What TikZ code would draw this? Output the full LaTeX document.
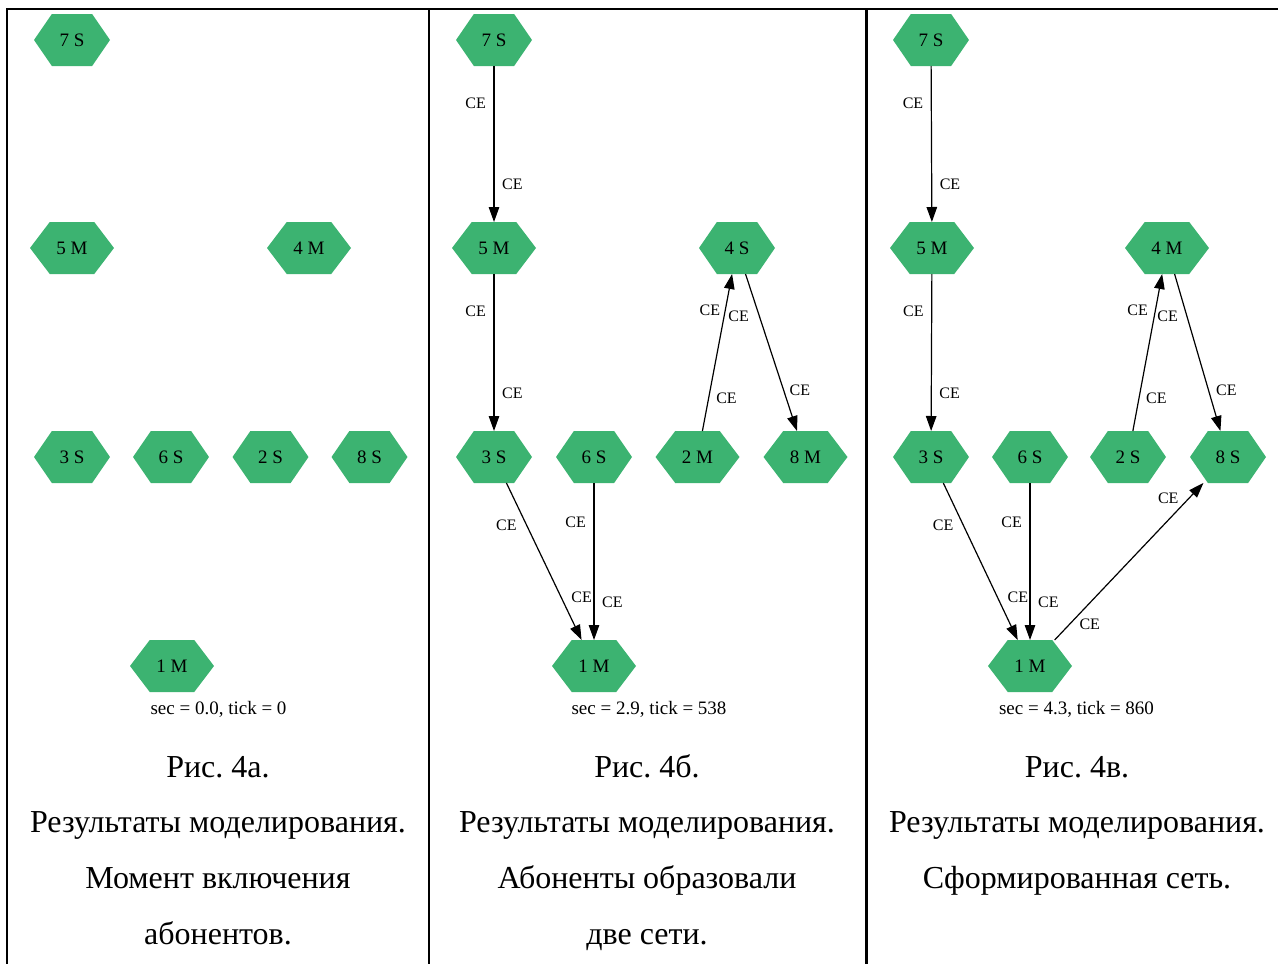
\documentclass[tikz,border=0pt]{standalone}
\usepackage{fontspec}
\setmainfont{Liberation Serif}
\usetikzlibrary{arrows.meta,calc}
\frenchspacing
\definecolor{hexgreen}{RGB}{60,179,113}
\tikzset{
  hexbase/.style={rectangle, inner sep=0pt, outer sep=0pt, minimum height=52pt,
    font=\fontsize{19}{22}\selectfont,
    path picture={
      \fill[hexgreen] (path picture bounding box.west)
        -- ($(path picture bounding box.north west)!0.235!(path picture bounding box.north east)$)
        -- ($(path picture bounding box.north west)!0.765!(path picture bounding box.north east)$)
        -- (path picture bounding box.east)
        -- ($(path picture bounding box.south west)!0.765!(path picture bounding box.south east)$)
        -- ($(path picture bounding box.south west)!0.235!(path picture bounding box.south east)$)
        -- cycle;}},
  snode/.style={hexbase, minimum width=76pt},
  mnode/.style={hexbase, minimum width=84pt},
  link/.style={line width=1.2pt, -{Triangle[length=15pt,width=10.5pt]}},
  ce/.style={font=\fontsize{16}{18}\selectfont, inner sep=2pt},
  stamp/.style={font=\fontsize{19}{22}\selectfont, anchor=base, inner sep=0pt},
  caption/.style={font=\fontsize{32}{36}\selectfont, inner sep=0pt, anchor=base},
  frame/.style={line width=2.7pt}
}
\begin{document}
\begin{tikzpicture}[x=1pt,y=-1pt]
\useasboundingbox (0,0) rectangle (1278,964);

% table rules
\draw[frame] (7,964) -- (7,9) -- (1278,9);
\draw[frame] (429,9) -- (429,964);
\draw[frame] (866.7,9) -- (866.7,964);

% ---------- panel a: switch-on moment ----------
\node[snode] (a7) at (72,40) {7 S};
\node[mnode] (a5) at (72,248) {5 M};
\node[mnode] (a4) at (309,248) {4 M};
\node[snode] (a3) at (72,457) {3 S};
\node[snode] (a6) at (171,457) {6 S};
\node[snode] (a2) at (270.5,457) {2 S};
\node[snode] (a8) at (369.5,457) {8 S};
\node[mnode] (a1) at (172,666) {1 M};
\node[stamp] (atime) at (218.5,714) {sec = 0.0, tick = 0};

\node[caption] (acap1) at (218,777) {Рис. 4а.};
\node[caption] (acap2) at (218,832.5) {Результаты моделирования.};
\node[caption] (acap3) at (218,888.5) {Момент включения};
\node[caption] (acap4) at (218,944.5) {абонентов.};

% ---------- panel b: two networks ----------
\node[snode] (b7) at (494,40) {7 S};
\node[mnode] (b5) at (494,248) {5 M};
\node[snode] (b4) at (737,248) {4 S};
\node[snode] (b3) at (494,457) {3 S};
\node[snode] (b6) at (594,457) {6 S};
\node[mnode] (b2) at (697.5,457) {2 M};
\node[mnode] (b8) at (805.5,457) {8 M};
\node[mnode] (b1) at (594,666) {1 M};
\node[stamp] (btime) at (649,714) {sec = 2.9, tick = 538};

\draw[link] (b7) -- node[ce, pos=0.24, left=5.5pt] {CE} node[ce, pos=0.76, right=5.5pt] {CE} (b5);
\draw[link] (b5) -- node[ce, pos=0.24, left=5.5pt] {CE} node[ce, pos=0.76, right=5.5pt] {CE} (b3);
\draw[link] (b3) -- node[ce, pos=0.27, left=7.5pt] {CE} node[ce, pos=0.73, right=7.5pt] {CE} (b1);
\draw[link] (b6) -- node[ce, pos=0.25, left=5.5pt] {CE} node[ce, pos=0.76, right=5.5pt] {CE} (b1);
\draw[link] (b2) -- node[ce, pos=0.21, right=5pt] {CE} node[ce, pos=0.77, left=2.5pt] {CE} (b4);
\draw[link] (b4) -- node[ce, pos=0.27, left=8pt] {CE} node[ce, pos=0.74, right=3.5pt] {CE} (b8);

\node[caption] (bcap1) at (647,777) {Рис. 4б.};
\node[caption] (bcap2) at (647,832.5) {Результаты моделирования.};
\node[caption] (bcap3) at (647,888.5) {Абоненты образовали};
\node[caption] (bcap4) at (647,944.5) {две сети.};

% ---------- panel c: formed network ----------
\node[snode] (c7) at (931,40) {7 S};
\node[mnode] (c5) at (932,248) {5 M};
\node[mnode] (c4) at (1167,248) {4 M};
\node[snode] (c3) at (931,457) {3 S};
\node[snode] (c6) at (1030,457) {6 S};
\node[snode] (c2) at (1128,457) {2 S};
\node[snode] (c8) at (1228,457) {8 S};
\node[mnode] (c1) at (1030,666) {1 M};
\node[stamp] (ctime) at (1076.5,714) {sec = 4.3, tick = 860};

\draw[link] (c7) -- node[ce, pos=0.24, left=5.5pt] {CE} node[ce, pos=0.76, right=5.5pt] {CE} (c5);
\draw[link] (c5) -- node[ce, pos=0.24, left=5.5pt] {CE} node[ce, pos=0.76, right=5.5pt] {CE} (c3);
\draw[link] (c3) -- node[ce, pos=0.27, left=7.5pt] {CE} node[ce, pos=0.73, right=7.5pt] {CE} (c1);
\draw[link] (c6) -- node[ce, pos=0.25, left=5.5pt] {CE} node[ce, pos=0.76, right=5.5pt] {CE} (c1);
\draw[link] (c2) -- node[ce, pos=0.21, right=4.5pt] {CE} node[ce, pos=0.77, left=5pt] {CE} (c4);
\draw[link] (c4) -- node[ce, pos=0.27, left=6.5pt] {CE} node[ce, pos=0.74, right=5pt] {CE} (c8);
\draw[link] (c1) -- node[ce, pos=0.15, anchor=north west] {CE} node[ce, pos=0.85, anchor=south east] {CE} (c8);

\node[caption] (ccap1) at (1077,777) {Рис. 4в.};
\node[caption] (ccap2) at (1077,832.5) {Результаты моделирования.};
\node[caption] (ccap3) at (1077,888.5) {Сформированная сеть.};
\end{tikzpicture}
\end{document}
